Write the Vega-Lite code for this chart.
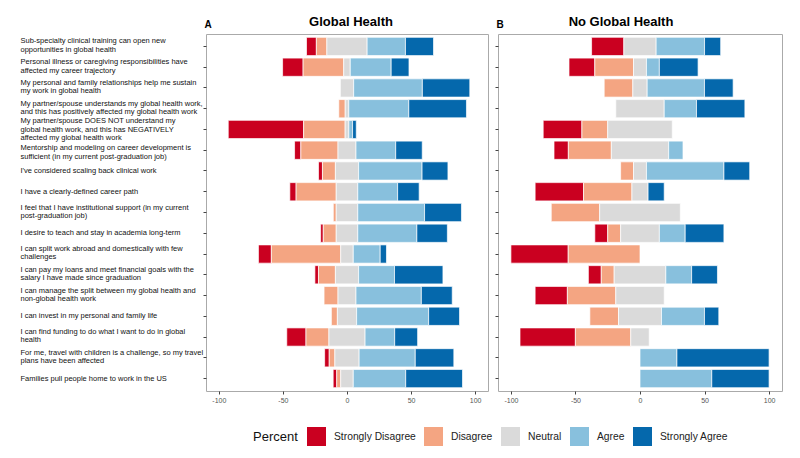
{
  "$schema": "https://vega.github.io/schema/vega-lite/v6.json",
  "padding": {"left": 19, "top": 15, "right": 5, "bottom": 5},
  "background": "white",
  "datasets": {
    "likert": [
      {"panel": "A", "q": 1, "question": "Sub-specialty clinical training can open new\nopportunities in global health", "Strongly Disagree": 7.7, "Disagree": 8.2, "Neutral": 31.4, "Agree": 29.9, "Strongly Agree": 21.9},
      {"panel": "A", "q": 2, "question": "Personal illness or caregiving responsibilities have\naffected my career trajectory", "Strongly Disagree": 16, "Disagree": 31.7, "Neutral": 5.1, "Agree": 31.9, "Strongly Agree": 13.9},
      {"panel": "A", "q": 3, "question": "My personal and family relationships help me sustain\nmy work in global health", "Strongly Disagree": 0, "Disagree": 0, "Neutral": 10.4, "Agree": 53.6, "Strongly Agree": 37},
      {"panel": "A", "q": 4, "question": "My partner/spouse understands my global health work,\nand this has positively affected my global health work", "Strongly Disagree": 0, "Disagree": 5, "Neutral": 2.8, "Agree": 46.8, "Strongly Agree": 45},
      {"panel": "A", "q": 5, "question": "My partner/spouse DOES NOT understand my\nglobal health work, and this has NEGATIVELY\naffected my global health work", "Strongly Disagree": 58.8, "Disagree": 32.4, "Neutral": 2.9, "Agree": 2.9, "Strongly Agree": 2.9},
      {"panel": "A", "q": 6, "question": "Mentorship and modeling on career development is\nsufficient (in my current post-graduation job)", "Strongly Disagree": 4.9, "Disagree": 29, "Neutral": 14, "Agree": 31, "Strongly Agree": 20.7},
      {"panel": "A", "q": 7, "question": "I've considered scaling back clinical work", "Strongly Disagree": 3.1, "Disagree": 10.1, "Neutral": 18.1, "Agree": 49.5, "Strongly Agree": 20.2},
      {"panel": "A", "q": 8, "question": "I have a clearly-defined career path", "Strongly Disagree": 4.9, "Disagree": 31.3, "Neutral": 16.8, "Agree": 31.1, "Strongly Agree": 16.8},
      {"panel": "A", "q": 9, "question": "I feel that I have institutional support (in my current\npost-graduation job)", "Strongly Disagree": 0, "Disagree": 2.3, "Neutral": 16.8, "Agree": 52.1, "Strongly Agree": 28.8},
      {"panel": "A", "q": 10, "question": "I desire to teach and stay in academia long-term", "Strongly Disagree": 2.1, "Disagree": 10.1, "Neutral": 16.8, "Agree": 46.1, "Strongly Agree": 23.8},
      {"panel": "A", "q": 11, "question": "I can split work abroad and domestically with few\nchallenges", "Strongly Disagree": 10.1, "Disagree": 54.1, "Neutral": 9.8, "Agree": 21, "Strongly Agree": 4.9},
      {"panel": "A", "q": 12, "question": "I can pay my loans and meet financial goals with the\nsalary I have made since graduation", "Strongly Disagree": 2.8, "Disagree": 13.2, "Neutral": 18.1, "Agree": 28, "Strongly Agree": 37.8},
      {"panel": "A", "q": 13, "question": "I can manage the split between my global health and\nnon-global health work", "Strongly Disagree": 0, "Disagree": 10.9, "Neutral": 14, "Agree": 51, "Strongly Agree": 24.1},
      {"panel": "A", "q": 14, "question": "I can invest in my personal and family life", "Strongly Disagree": 0, "Disagree": 4.7, "Neutral": 15, "Agree": 56.2, "Strongly Agree": 24.1},
      {"panel": "A", "q": 15, "question": "I can find funding to do what I want to do in global\nhealth", "Strongly Disagree": 15, "Disagree": 17.9, "Neutral": 28.2, "Agree": 23.1, "Strongly Agree": 17.9},
      {"panel": "A", "q": 16, "question": "For me, travel with children is a challenge, so my travel\nplans have been affected", "Strongly Disagree": 3.6, "Disagree": 4.4, "Neutral": 18.9, "Agree": 43.8, "Strongly Agree": 30.1},
      {"panel": "A", "q": 17, "question": "Families pull people home to work in the US", "Strongly Disagree": 2.8, "Disagree": 3.1, "Neutral": 9.8, "Agree": 40.9, "Strongly Agree": 44.3},
      {"panel": "B", "q": 1, "question": "Sub-specialty clinical training can open new\nopportunities in global health", "Strongly Disagree": 25, "Disagree": 0, "Neutral": 25, "Agree": 37.5, "Strongly Agree": 12.5},
      {"panel": "B", "q": 2, "question": "Personal illness or caregiving responsibilities have\naffected my career trajectory", "Strongly Disagree": 20, "Disagree": 30, "Neutral": 10, "Agree": 10, "Strongly Agree": 30},
      {"panel": "B", "q": 3, "question": "My personal and family relationships help me sustain\nmy work in global health", "Strongly Disagree": 0, "Disagree": 22.2, "Neutral": 11.1, "Agree": 44.4, "Strongly Agree": 22.2},
      {"panel": "B", "q": 4, "question": "My partner/spouse understands my global health work,\nand this has positively affected my global health work", "Strongly Disagree": 0, "Disagree": 0, "Neutral": 37.5, "Agree": 25, "Strongly Agree": 37.5},
      {"panel": "B", "q": 5, "question": "My partner/spouse DOES NOT understand my\nglobal health work, and this has NEGATIVELY\naffected my global health work", "Strongly Disagree": 30, "Disagree": 20, "Neutral": 50, "Agree": 0, "Strongly Agree": 0},
      {"panel": "B", "q": 6, "question": "Mentorship and modeling on career development is\nsufficient (in my current post-graduation job)", "Strongly Disagree": 11.1, "Disagree": 33.3, "Neutral": 44.4, "Agree": 11.1, "Strongly Agree": 0},
      {"panel": "B", "q": 7, "question": "I've considered scaling back clinical work", "Strongly Disagree": 0, "Disagree": 10, "Neutral": 10, "Agree": 60, "Strongly Agree": 20},
      {"panel": "B", "q": 8, "question": "I have a clearly-defined career path", "Strongly Disagree": 37.5, "Disagree": 37.5, "Neutral": 12.5, "Agree": 0, "Strongly Agree": 12.5},
      {"panel": "B", "q": 9, "question": "I feel that I have institutional support (in my current\npost-graduation job)", "Strongly Disagree": 0, "Disagree": 37.5, "Neutral": 62.5, "Agree": 0, "Strongly Agree": 0},
      {"panel": "B", "q": 10, "question": "I desire to teach and stay in academia long-term", "Strongly Disagree": 10, "Disagree": 10, "Neutral": 30, "Agree": 20, "Strongly Agree": 30},
      {"panel": "B", "q": 11, "question": "I can split work abroad and domestically with few\nchallenges", "Strongly Disagree": 44.4, "Disagree": 55.6, "Neutral": 0, "Agree": 0, "Strongly Agree": 0},
      {"panel": "B", "q": 12, "question": "I can pay my loans and meet financial goals with the\nsalary I have made since graduation", "Strongly Disagree": 10, "Disagree": 10, "Neutral": 40, "Agree": 20, "Strongly Agree": 20},
      {"panel": "B", "q": 13, "question": "I can manage the split between my global health and\nnon-global health work", "Strongly Disagree": 25, "Disagree": 37.5, "Neutral": 37.5, "Agree": 0, "Strongly Agree": 0},
      {"panel": "B", "q": 14, "question": "I can invest in my personal and family life", "Strongly Disagree": 0, "Disagree": 22.2, "Neutral": 33.3, "Agree": 33.3, "Strongly Agree": 11.1},
      {"panel": "B", "q": 15, "question": "I can find funding to do what I want to do in global\nhealth", "Strongly Disagree": 42.9, "Disagree": 42.9, "Neutral": 14.3, "Agree": 0, "Strongly Agree": 0},
      {"panel": "B", "q": 16, "question": "For me, travel with children is a challenge, so my travel\nplans have been affected", "Strongly Disagree": 0, "Disagree": 0, "Neutral": 0, "Agree": 28.6, "Strongly Agree": 71.4},
      {"panel": "B", "q": 17, "question": "Families pull people home to work in the US", "Strongly Disagree": 0, "Disagree": 0, "Neutral": 0, "Agree": 55.6, "Strongly Agree": 44.4}
    ]
  },
  "hconcat": [
    {
      "width": 282,
      "height": 357,
      "data": {"name": "likert"},
      "title": {"text": "Global Health", "frame": "group", "anchor": "middle", "dx": 4, "dy": 16},
      "transform": [
        {"filter": "datum.panel == 'A'"},
        {"fold": ["Strongly Disagree", "Disagree", "Neutral", "Agree", "Strongly Agree"], "as": ["response", "pct"]},
        {"calculate": "indexof(['Strongly Disagree','Disagree','Neutral','Agree','Strongly Agree'], datum.response)", "as": "rank"},
        {"calculate": "datum.rank < 2 ? datum.pct : (datum.rank == 2 ? datum.pct / 2 : 0)", "as": "leftpart"},
        {"joinaggregate": [{"op": "sum", "field": "leftpart", "as": "offset"}], "groupby": ["q"]},
        {"window": [{"op": "sum", "field": "pct", "as": "cum"}], "groupby": ["q"], "sort": [{"field": "rank", "order": "ascending"}], "frame": [null, 0]},
        {"calculate": "datum.cum - datum.pct - datum.offset", "as": "start"},
        {"calculate": "datum.cum - datum.offset", "as": "end"},
        {"filter": "datum.pct > 0"}
      ],
      "encoding": {
        "y": {
          "field": "question", "type": "nominal", "sort": {"field": "q", "op": "min"},
          "scale": {"paddingInner": 0.12, "paddingOuter": 0.16},
          "axis": {
            "title": "A", "titleAngle": 0, "titleX": -2, "titleY": -10, "titleAlign": "left", "titleBaseline": "middle",
            "titleFontSize": 10, "titleFontWeight": "bold",
            "labelAlign": "left", "labelPadding": 183, "labelLimit": 260, "labelFontSize": 7.5, "labelLineHeight": 8.4,
            "labelExpr": "split(datum.label, '\\n')", "labelColor": "#111111",
            "labelOffset": {
              "condition": [
                {"test": "indexof(datum.label, 'Mentorship') == 0", "value": -2},
                {"test": "length(split(datum.label, '\\n')) == 3", "value": -8},
                {"test": "length(split(datum.label, '\\n')) == 2", "value": -5}
              ],
              "value": 0
            }
          }
        }
      },
      "layer": [
        {
          "mark": {"type": "bar", "stroke": "white", "strokeWidth": 0.7},
          "encoding": {
            "x": {"field": "start", "type": "quantitative", "scale": {"domain": [-110, 110], "nice": false},
                  "axis": {"values": [-100, -75, -50, -25, 0, 25, 50, 75, 100], "title": null, "labelExpr": "'' + datum.value"}},
            "x2": {"field": "end"},
            "color": {
              "field": "response", "type": "nominal",
              "scale": {"domain": ["Strongly Disagree", "Disagree", "Neutral", "Agree", "Strongly Agree"],
                        "range": ["#ca0020", "#f4a582", "#dadada", "#88c0dd", "#0568ac"]},
              "legend": {
                "title": "Percent", "orient": "none", "legendX": 47, "legendY": 393, "direction": "horizontal",
                "titleOrient": "left", "titleFontSize": 13, "titleFontWeight": "normal", "titleBaseline": "middle",
                "titlePadding": 9, "symbolType": "square", "symbolSize": 361, "symbolStrokeWidth": 0, "symbolOpacity": 1,
                "labelFontSize": 10.3, "labelOffset": 8, "columnPadding": 8, "labelColor": "#222222", "titleColor": "#111111"
              }
            }
          }
        },
        {
          "mark": {"type": "rule", "color": "white", "strokeWidth": 1},
          "encoding": {"x": {"datum": 0}}
        }
      ]
    },
    {
      "width": 284,
      "height": 357,
      "data": {"name": "likert"},
      "title": {"text": "No Global Health", "frame": "group", "anchor": "middle", "dx": -19, "dy": 16},
      "transform": [
        {"filter": "datum.panel == 'B'"},
        {"fold": ["Strongly Disagree", "Disagree", "Neutral", "Agree", "Strongly Agree"], "as": ["response", "pct"]},
        {"calculate": "indexof(['Strongly Disagree','Disagree','Neutral','Agree','Strongly Agree'], datum.response)", "as": "rank"},
        {"calculate": "datum.rank < 2 ? datum.pct : (datum.rank == 2 ? datum.pct / 2 : 0)", "as": "leftpart"},
        {"joinaggregate": [{"op": "sum", "field": "leftpart", "as": "offset"}], "groupby": ["q"]},
        {"window": [{"op": "sum", "field": "pct", "as": "cum"}], "groupby": ["q"], "sort": [{"field": "rank", "order": "ascending"}], "frame": [null, 0]},
        {"calculate": "datum.cum - datum.pct - datum.offset", "as": "start"},
        {"calculate": "datum.cum - datum.offset", "as": "end"},
        {"filter": "datum.pct > 0"}
      ],
      "encoding": {
        "y": {
          "field": "question", "type": "nominal", "sort": {"field": "q", "op": "min"},
          "scale": {"paddingInner": 0.12, "paddingOuter": 0.16},
          "axis": {
            "title": "B", "titleAngle": 0, "titleX": -2, "titleY": -10, "titleAlign": "left", "titleBaseline": "middle",
            "titleFontSize": 10, "titleFontWeight": "bold", "labels": false
          }
        }
      },
      "layer": [
        {
          "mark": {"type": "bar", "stroke": "white", "strokeWidth": 0.7},
          "encoding": {
            "x": {"field": "start", "type": "quantitative", "scale": {"domain": [-110, 110], "nice": false},
                  "axis": {"values": [-100, -75, -50, -25, 0, 25, 50, 75, 100], "title": null, "labelExpr": "'' + datum.value"}},
            "x2": {"field": "end"},
            "color": {"field": "response", "type": "nominal"}
          }
        },
        {
          "mark": {"type": "rule", "color": "white", "strokeWidth": 1},
          "encoding": {"x": {"datum": 0}}
        }
      ]
    }
  ],
  "spacing": 5,
  "resolve": {"scale": {"color": "shared"}, "legend": {"color": "shared"}},
  "config": {
    "font": "Liberation Sans",
    "view": {"stroke": "#aaaaaa", "strokeWidth": 1},
    "title": {"fontSize": 13, "fontWeight": "bold", "color": "#000000", "offset": 6},
    "axis": {"grid": false, "domain": false, "tickSize": 3, "tickColor": "#444444", "labelFontSize": 7, "labelColor": "#555555", "labelPadding": 2},
    "axisY": {"tickSize": 3}
  }
}
